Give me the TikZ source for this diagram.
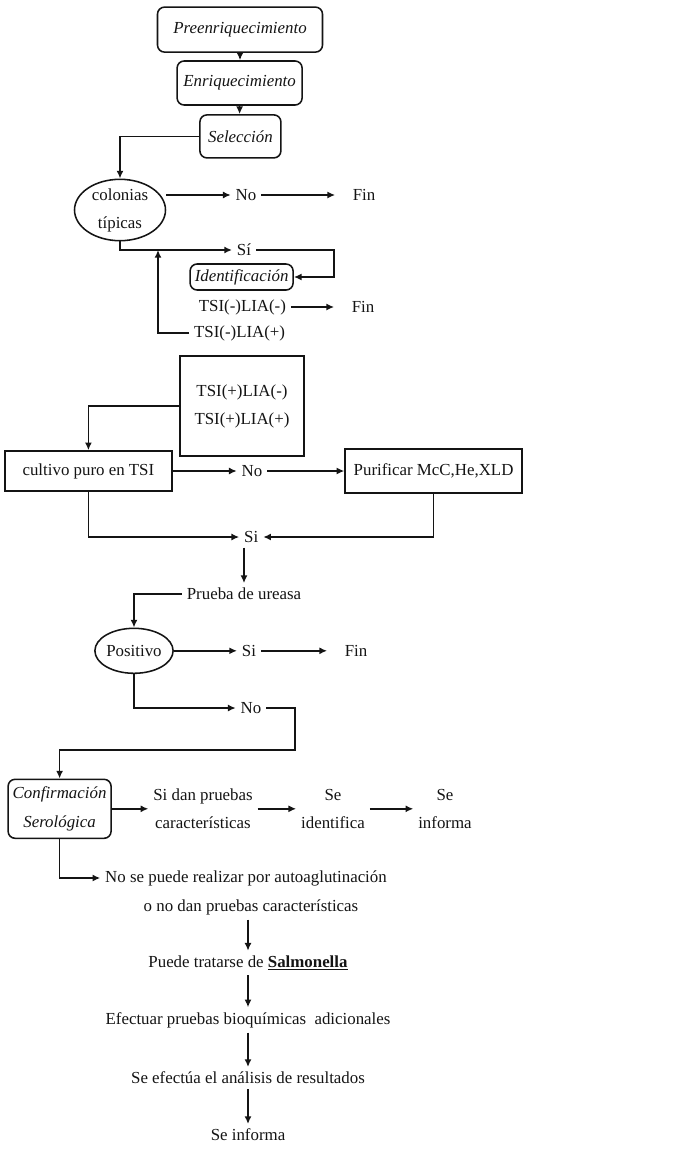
\documentclass[tikz,border=0pt]{standalone}
\usepackage{fontspec}
\setmainfont{Liberation Serif}
\usepackage{xcolor}
\definecolor{ink}{HTML}{141414}
\usepackage{tikz}
\usetikzlibrary{arrows.meta, shapes.geometric}

\begin{document}
\begin{tikzpicture}[
  font=\fontsize{12}{20}\selectfont,
  every node/.style={align=center, text=ink},
  rbox/.style={draw=ink, line width=1.1pt, rounded corners=5pt, inner sep=1pt,
               font=\fontsize{12}{20}\selectfont\itshape},
  sbox/.style={draw=ink, line width=1.1pt, inner sep=1pt},
  oval/.style={draw=ink, line width=1.1pt, ellipse, inner sep=0pt},
  arr/.style={-{Latex[length=5.5pt,width=5pt]}, ink, line width=1.1pt},
  tofin/.style={arr, shorten >=9pt}
]
  \useasboundingbox (0,0) rectangle (17.25,-28.75);

  \node[rbox, minimum width=4.125cm, minimum height=1.125cm] (pre) at (6.0,-0.74) {Preenriquecimiento};
  \node[rbox, minimum width=3.125cm, minimum height=1.1cm] (enr) at (5.99,-2.075) {Enriquecimiento};
  \node[rbox, minimum width=2.025cm, minimum height=1.075cm] (sel) at (6.01,-3.41) {Selección};
  \node[oval, minimum width=2.275cm, minimum height=1.5cm] (col) at (3.0,-5.25) {colonias\\típicas};
  \node (noA) at (6.15,-4.875) {No};
  \node (finA) at (9.1,-4.875) {Fin};
  \node (siA) at (6.1,-6.25) {Sí};
  \coordinate (loopR) at (8.35,-6.925);
  \coordinate (join) at (3.95,-6.25);
  \node[rbox, minimum width=2.575cm, minimum height=0.65cm] (ident) at (6.04,-6.925) {Identificación};
  \node (tsiA) at (6.06,-7.675) {TSI(-)LIA(-)};
  \node (finB) at (9.075,-7.675) {Fin};
  \node (tsiB) at (5.99,-8.325) {TSI(-)LIA(+)};
  \node[sbox, minimum width=3.1cm, minimum height=2.5cm] (tsiP) at (6.05,-10.15) {TSI(+)LIA(-)\\TSI(+)LIA(+)};
  \node[sbox, minimum width=4.175cm, minimum height=1.0cm] (cult) at (2.21,-11.775) {cultivo puro en TSI};
  \node (noB) at (6.3,-11.775) {No};
  \node[sbox, minimum width=4.425cm, minimum height=1.1cm] (pur) at (10.84,-11.775) {Purificar McC,He,XLD};
  \node (siB) at (6.28,-13.425) {Si};
  \node (urea) at (6.1,-14.85) {Prueba de ureasa};
  \node[oval, minimum width=1.8cm, minimum height=1.125cm] (pos) at (3.35,-16.27) {Positivo};
  \node (siC) at (6.225,-16.27) {Si};
  \node (finC) at (8.9,-16.27) {Fin};
  \node (noC) at (6.275,-17.7) {No};
  \coordinate (bendA) at (7.375,-18.75);
  \node[rbox, minimum width=2.575cm, minimum height=1.475cm] (conf) at (1.49,-20.22) {Confirmación\\Serológica};
  \node (siDan) at (5.075,-20.22) {Si dan pruebas\\características};
  \node (seId) at (8.325,-20.22) {Se\\identifica};
  \node (seInf) at (11.125,-20.22) {Se\\informa};
  \node (noSe1) at (6.15,-21.95) {No se puede realizar por autoaglutinación};
  \node (noSe2) at (6.275,-22.675) {o no dan pruebas características};
  \node (salm) at (6.2,-24.075) {Puede tratarse de \textbf{\underline{Salmonella}}};
  \node (efec) at (6.2,-25.5) {Efectuar pruebas bioquímicas\ \ adicionales};
  \node (seEf) at (6.2,-26.95) {Se efectúa el análisis de resultados};
  \node (seFin) at (6.2,-28.375) {Se informa};

  \draw[arr] (pre.south) -- (pre.south |- enr.north);
  \draw[arr] (enr.south) -- (enr.south |- sel.north);
  \draw[arr] (sel.west) -| (col.north);
  \draw[arr] (col.east |- noA) -- (noA.west);
  \draw[tofin] (noA.east) -- (finA.west);
  \draw[arr] (col.south) |- (siA.west);
  \draw[arr] (siA.east) -| (loopR) -- (ident.east);
  \draw[tofin] (tsiA.east) -- (finB.west);
  \draw[arr] (tsiB.west) -| (join);
  \draw[arr] (tsiP.west) -| (cult.north);
  \draw[arr] (cult.east) -- (noB.west);
  \draw[arr] (noB.east) -- (pur.west);
  \draw[arr] (cult.south) |- (siB.west);
  \draw[arr] (pur.south) |- (siB.east);
  \draw[arr] (urea.north |- siB.south) -- (urea.north);
  \draw[arr] (urea.west) -| (pos.north);
  \draw[arr] (pos.east) -- (siC.west);
  \draw[tofin] (siC.east) -- (finC.west);
  \draw[arr] (pos.south) |- (noC.west);
  \draw[arr] (noC.east) -| (bendA) -| (conf.north);
  \draw[arr] (conf.east) -- (siDan.west);
  \draw[arr] (siDan.east) -- (seId.west);
  \draw[arr] (seId.east) -- (seInf.west);
  \draw[arr] (conf.south) |- (noSe1.west);
  \draw[arr] (noSe2.south -| salm.north) -- (salm.north);
  \draw[arr] (salm.south) -- (efec.north);
  \draw[arr] (efec.south) -- (seEf.north);
  \draw[arr] (seEf.south) -- (seFin.north);
\end{tikzpicture}
\end{document}
